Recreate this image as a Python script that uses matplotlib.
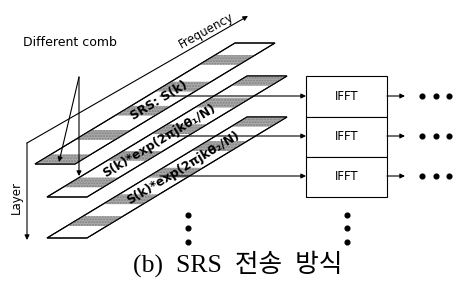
import matplotlib
matplotlib.use("Agg")
import matplotlib.pyplot as plt
from matplotlib.patches import Polygon, Rectangle
import math

# ---- content ----
plane_labels = ["SRS: S(k)", "S(k)*exp(2πjkθ₁/N)", "S(k)*exp(2πjkθ₂/N)"]
block_labels = ["IFFT", "IFFT", "IFFT"]
axis_labels = ["Frequency", "Layer"]
comb_label = "Different comb"
caption = "(b)  SRS  전송  방식"

# ---- geometry (pixels) ----
W, H = 456, 284
fig = plt.figure(figsize=(W / 100, H / 100), dpi=100)
ax = fig.add_axes([0, 0, 1, 1])
ax.set_xlim(0, W)
ax.set_ylim(H, 0)
ax.axis("off")

DX, DY, PW = 200, -121, 40
planes = [(35, 164), (47, 197), (47, 238)]
bands = [[0.0, 0.2, 0.4, 0.6, 0.82],
         [0.08, 0.3, 0.52, 0.74, 0.92],
         [0.1, 0.28, 0.5, 0.72, 0.92]]
BW = 0.08
label_t = [0.52, 0.46, 0.58]
lw = 0.8


def P(x0, y0, t, off=0):
    return (x0 + DX * t + off, y0 + DY * t)


for (x0, y0), bl in zip(planes, bands):
    poly = [P(x0, y0, 0), P(x0, y0, 0, PW), P(x0, y0, 1, PW), P(x0, y0, 1)]
    ax.add_patch(Polygon(poly, closed=True, fc="white", ec="black", lw=lw, zorder=2))
    for a in bl:
        b = min(a + BW, 1)
        band = [P(x0, y0, a), P(x0, y0, a, PW), P(x0, y0, b, PW), P(x0, y0, b)]
        ax.add_patch(Polygon(band, closed=True, fc="#aaaaaa", ec="#808080",
                             hatch="......", lw=0, zorder=3))
    ax.add_patch(Polygon(poly, closed=True, fc="none", ec="black", lw=lw, zorder=4))

ang = math.degrees(math.atan2(-DY, DX))
for (x0, y0), lab, t in zip(planes, plane_labels, label_t):
    cx, cy = P(x0, y0, t, PW / 2)
    ax.text(cx, cy, lab, rotation=ang, rotation_mode="anchor", ha="center",
            va="center", fontsize=8.8, fontweight="bold", zorder=6,
            family="DejaVu Sans")

arrow = dict(arrowstyle="-|>", lw=lw, color="black", mutation_scale=7,
             shrinkA=0, shrinkB=0)

# axes: frequency & layer
ax.annotate("", xy=(248, 16), xytext=(27, 143), arrowprops=arrow, zorder=1)
ax.annotate("", xy=(27, 240), xytext=(27, 143), arrowprops=arrow, zorder=1)
ax.text(206, 31, axis_labels[0], rotation=29, rotation_mode="anchor",
        ha="center", va="center", fontsize=8.5)
ax.text(16, 197, axis_labels[1], rotation=90, ha="center", va="center",
        fontsize=8.5)

# different comb
ax.text(23, 42, comb_label, ha="left", va="center", fontsize=9)
ax.annotate("", xy=(59, 162), xytext=(79, 77), arrowprops=arrow, zorder=7)
ax.annotate("", xy=(79, 176), xytext=(79, 77), arrowprops=arrow, zorder=7)

# IFFT block
bx0, bx1 = 306, 387
rows = [(76, 117), (117, 157), (157, 197)]
row_y = [96, 136, 176]
line_x0 = [160, 160, 160]
for (r0, r1), yy, lab, xs in zip(rows, row_y, block_labels, line_x0):
    ax.add_patch(Rectangle((bx0, r0), bx1 - bx0, r1 - r0, fc="white",
                           ec="black", lw=lw, zorder=5))
    ax.text((bx0 + bx1) / 2, yy, lab, ha="center", va="center", fontsize=8.5,
            zorder=6)
    ax.annotate("", xy=(bx0, yy), xytext=(xs, yy), arrowprops=arrow, zorder=5)
    ax.annotate("", xy=(405, yy), xytext=(bx1, yy), arrowprops=arrow, zorder=5)
    ax.plot([422, 436, 449], [yy, yy, yy], "o", color="black", ms=3.4, zorder=5)

# vertical dots
for xx in (188, 347):
    ax.plot([xx] * 3, [215, 228, 242], "o", color="black", ms=3.4, zorder=5)

ax.text(238, 264, caption, ha="center", va="center", fontsize=18.5,
        family=["Liberation Serif", "Noto Sans CJK KR"])

fig.savefig("out.png", dpi=100)
